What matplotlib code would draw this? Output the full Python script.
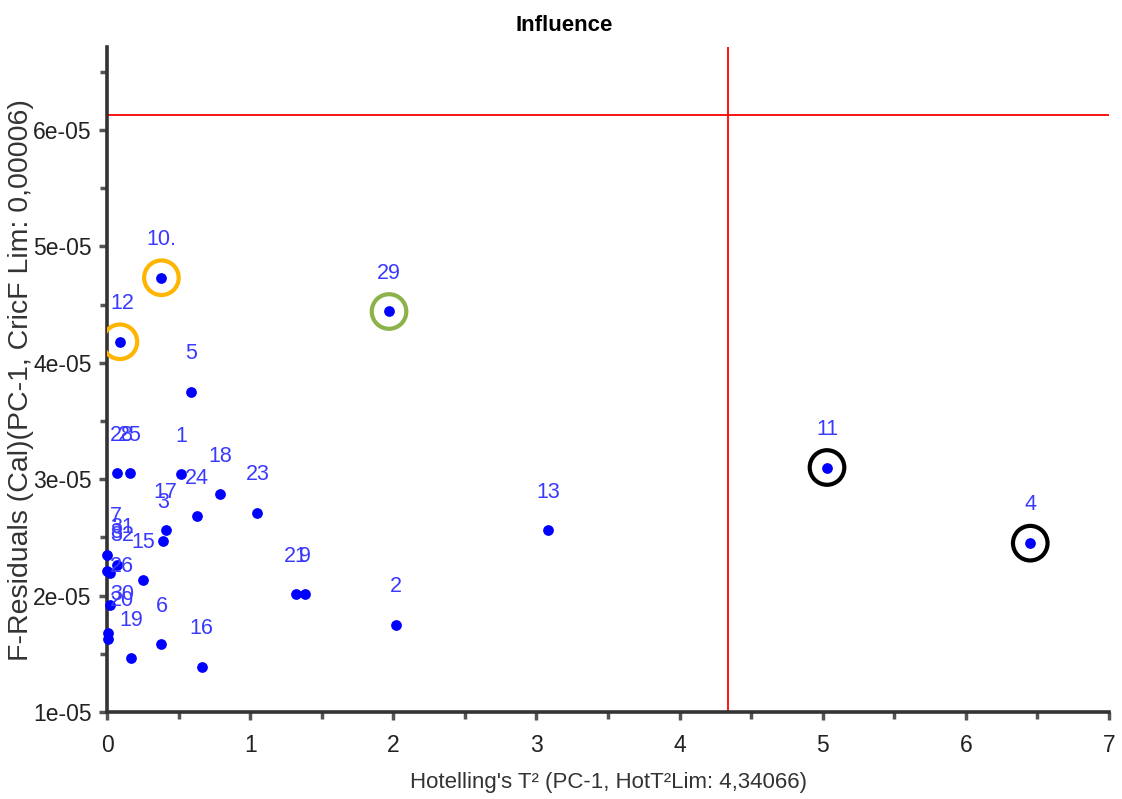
import numpy as np
import matplotlib.pyplot as plt
from matplotlib.ticker import MultipleLocator, FuncFormatter

plt.rcParams['font.family'] = ['Liberation Sans', 'DejaVu Sans']

# Sample labels, Hotelling's T2 and F-residuals
labels = ["1", "2", "3", "4", "5", "6", "7", "8", "9", "10.", "11", "12", "13",
          "15", "16", "17", "18", "19", "20", "21", "23", "24", "25", "26",
          "28", "29", "30", "31", "32"]
hot_t2 = [0.52, 2.02, 0.39, 6.45, 0.59, 0.38, 0.0, 0.0, 1.38, 0.38, 5.03, 0.09, 3.08,
          0.25, 0.66, 0.41, 0.79, 0.17, 0.01, 1.32, 1.05, 0.63, 0.16, 0.02,
          0.07, 1.97, 0.01, 0.07, 0.02]
f_res = [3.04, 1.75, 2.47, 2.45, 3.75, 1.58, 2.35, 2.21, 2.01, 4.73, 3.10, 4.18, 2.56,
         2.13, 1.39, 2.56, 2.87, 1.46, 1.63, 2.01, 2.71, 2.68, 3.05, 1.92,
         3.05, 4.44, 1.68, 2.26, 2.19]
f_res = [v * 1e-05 for v in f_res]

hot_lim = 4.34066
f_lim = 6.13e-05

# highlighted samples
circled = ["10.", "12", "29", "11", "4"]
circle_colors = ["#FFB400", "#FFB400", "#8CB34A", "black", "black"]

fig = plt.figure(figsize=(11.22, 7.99), dpi=100)
ax = fig.add_axes([0.0954, 0.1089, 0.893, 0.832])

ax.axvline(hot_lim, color="#FF0000", lw=1.3, zorder=1)
ax.axhline(f_lim, color="#FF0000", lw=1.3, zorder=1)

ax.scatter(hot_t2, f_res, s=45, color="#0000FF", zorder=3, clip_on=False)

texts = []
for lab, x, y in zip(labels, hot_t2, f_res):
    t = ax.annotate(lab, (x, y), xytext=(0, 27.5), textcoords="offset points",
                    ha="center", va="center", color="#3a3aFF", fontsize=15.5,
                    annotation_clip=False)
    texts.append(t)

for lab, c in zip(circled, circle_colors):
    i = labels.index(lab)
    ax.scatter(hot_t2[i], f_res[i], s=620, facecolors="none", edgecolors=c,
               linewidths=3, zorder=4)

ax.set_xlim(0, 7)
ax.set_ylim(1e-05, 6.71e-05)
ax.xaxis.set_major_locator(MultipleLocator(1))
ax.xaxis.set_minor_locator(MultipleLocator(0.5))
ax.yaxis.set_major_locator(MultipleLocator(1e-05))
ax.yaxis.set_minor_locator(MultipleLocator(0.5e-05))
ax.yaxis.set_major_formatter(FuncFormatter(lambda v, p: f"{v:.0e}"))

for s in ["top", "right"]:
    ax.spines[s].set_visible(False)
for s in ["left", "bottom"]:
    ax.spines[s].set_color("#333333")
    ax.spines[s].set_linewidth(2.6)
ax.tick_params(which="both", direction="out", color="#555555", width=2.5,
               labelsize=16.5, labelcolor="#222222")
ax.tick_params(which="major", length=6)
ax.tick_params(which="minor", length=5)
ax.tick_params(axis="y", which="major", pad=5)
ax.tick_params(axis="x", which="major", pad=10)

ax.set_xlabel("Hotelling's T² (PC-1, HotT²Lim: 4,34066)", fontsize=16,
              color="#333333", labelpad=11)
ax.set_ylabel("F-Residuals (Cal)(PC-1, CricF Lim: 0,00006)", fontsize=20.5,
              color="#333333", va="center")
ax.yaxis.set_label_coords(-0.086, 0.499)
fig.text(0.503, 0.968, "Influence", fontsize=16, fontweight="bold",
         ha="center", va="center")

# keep labels of points on the axis inside the plot area
fig.canvas.draw()
r = fig.canvas.get_renderer()
left = ax.transAxes.transform((0, 0))[0]
for t in texts:
    bb = t.get_window_extent(r)
    if bb.x0 < left + 3:
        dx = (left + 3 - bb.x0) * 72 / fig.dpi
        t.xyann = (t.xyann[0] + dx, t.xyann[1])

fig.savefig("out.png", dpi=100)
